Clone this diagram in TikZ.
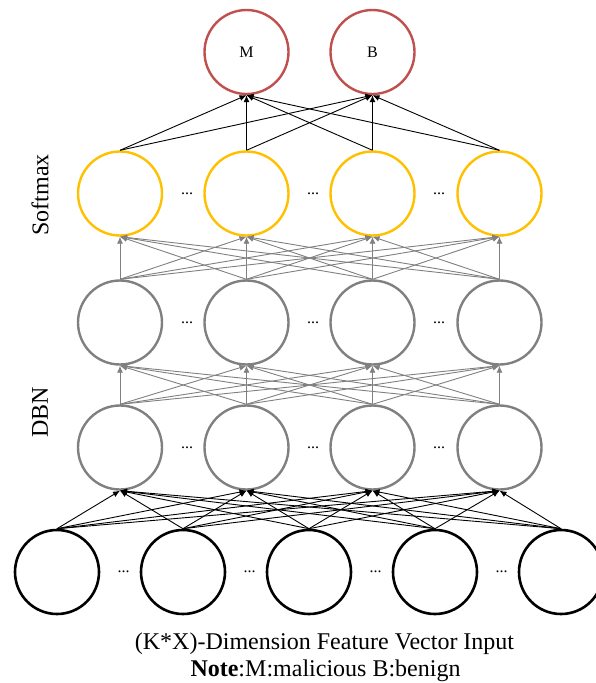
\documentclass[tikz,border=0pt]{standalone}
\usepackage{fontspec}
\setmainfont{Liberation Serif}
\usetikzlibrary{arrows.meta}
\definecolor{outred}{RGB}{192,80,77}
\definecolor{smgold}{RGB}{255,192,0}
\definecolor{dbngray}{RGB}{128,128,128}
\begin{document}
\begin{tikzpicture}[x=1pt,y=-1pt,
  unit/.style={circle,minimum size=84pt,inner sep=0pt,line width=2.4pt},
  inunit/.style={unit,draw=black,line width=2.6pt},
  hidunit/.style={unit,draw=dbngray},
  smunit/.style={unit,draw=smgold},
  outunit/.style={unit,draw=outred,font=\fontsize{16}{18}\selectfont},
  blackarr/.style={draw=black,line width=0.9pt,-{Latex[length=7pt,width=6pt]}},
  grayarr/.style={draw=dbngray,line width=0.9pt,-{Latex[length=7pt,width=6pt]}},
  dotlbl/.style={font=\fontsize{16}{18}\selectfont,inner sep=0pt},
  lbl/.style={font=\fontsize{24}{28}\selectfont,inner sep=0pt},
]
\useasboundingbox (0,0) rectangle (596,683);

% input layer
\foreach \i/\x in {1/57,2/183,3/309,4/435,5/561}
  \node[inunit] (in\i) at (\x,572) {};
\foreach \i/\x in {1/123.5,2/249.5,3/375.5,4/501.5}
  \node[dotlbl] (indots\i) at (\x,572) {...};

% hidden layers and softmax layer
\foreach \i/\x in {1/120,2/246.5,3/372.5,4/499.5}{
  \node[hidunit] (da\i) at (\x,447.5) {};
  \node[hidunit] (db\i) at (\x,322.5) {};
  \node[smunit]  (sm\i) at (\x,193.5) {};
}
\foreach \i/\x in {1/187,2/313,3/439}{
  \node[dotlbl] (dadots\i) at (\x,447.5) {...};
  \node[dotlbl] (dbdots\i) at (\x,322.5) {...};
  \node[dotlbl] (smdots\i) at (\x,193.5) {...};
}

% output layer
\node[outunit] (outM) at (246.5,52) {M};
\node[outunit] (outB) at (372.5,52) {B};

% connections
\foreach \i in {1,...,5}
  \foreach \j in {1,...,4}
    \draw[blackarr] (in\i.north) -- (da\j.south);
\foreach \i in {1,...,4}
  \foreach \j in {1,...,4}{
    \draw[grayarr] (da\i.north) -- (db\j.south);
    \draw[grayarr] (db\i.north) -- (sm\j.south);
  }
\foreach \i in {1,...,4}{
  \draw[blackarr] (sm\i.north) -- (outM.south);
  \draw[blackarr] (sm\i.north) -- (outB.south);
}

% side labels
\node[lbl,rotate=90] (smlabel) at (40,195) {Softmax};
\node[lbl,rotate=90] (dbnlabel) at (40,412) {DBN};

% captions
\node[lbl,anchor=base] (cap1) at (324.5,649) {(K*X)-Dimension Feature Vector Input};
\node[lbl,anchor=base] (cap2) at (325.5,676.5) {\textbf{Note}:M:malicious B:benign};
\end{tikzpicture}
\end{document}
